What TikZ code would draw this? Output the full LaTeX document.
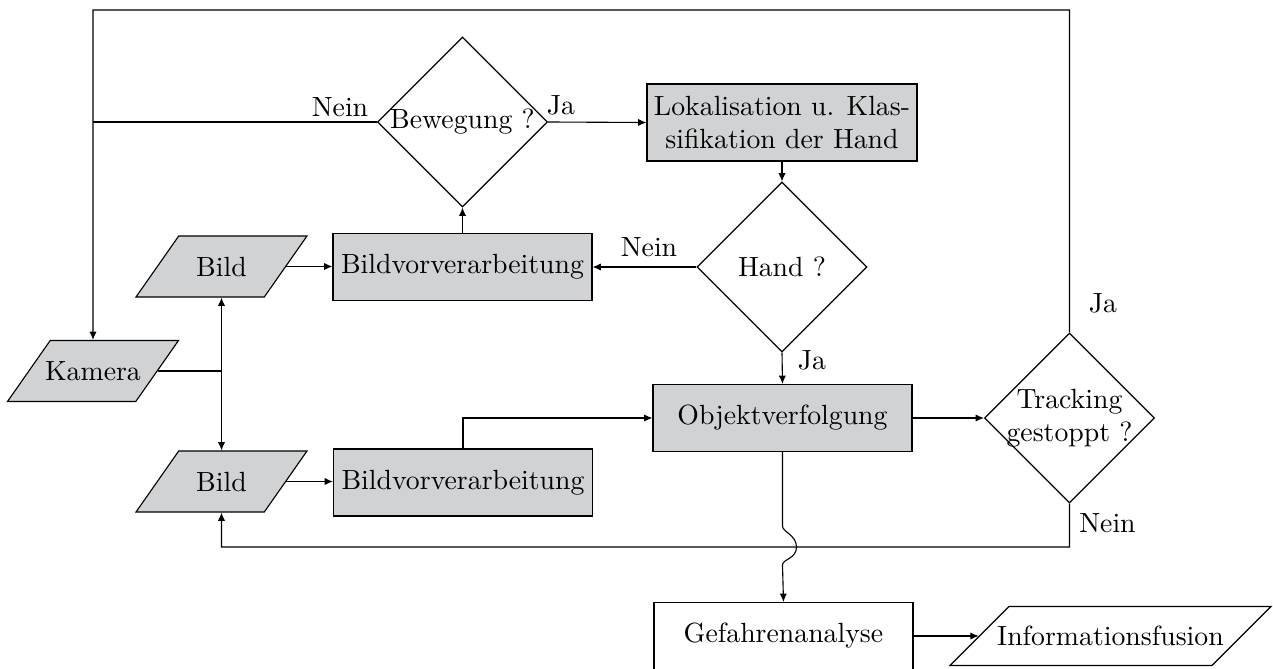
\documentclass[tikz,border=0pt]{standalone}
\usetikzlibrary{shapes.geometric,arrows.meta,calc}
\definecolor{boxgrey}{RGB}{209,210,212}
\begin{document}
\begin{tikzpicture}[
  x=0.36pt, y=-0.36pt,
  line width=0.4pt,
  font=\fontsize{10}{12}\selectfont,
  arrow/.style={-{Latex[length=3pt,width=2.6pt]}},
  procbox/.style={rectangle, draw, fill=boxgrey, minimum width=93.24pt, minimum height=24.12pt, inner sep=0pt, align=center},
  plainbox/.style={rectangle, draw, fill=white, minimum width=93.24pt, minimum height=24.12pt, inner sep=0pt},
  decision/.style={diamond, draw, aspect=1, minimum size=61.2pt, inner sep=0pt},
  iobox/.style={trapezium, draw, fill=boxgrey, trapezium left angle=55, trapezium right angle=125,
                trapezium stretches body, text height=7pt, text depth=0pt,
                inner xsep=-4pt, inner ysep=7.48pt, minimum width=61.56pt},
  outbox/.style={trapezium, draw, fill=white, trapezium left angle=45, trapezium right angle=135,
                trapezium stretches body, text height=7pt, text depth=0pt,
                inner xsep=-6pt, inner ysep=7.12pt, minimum width=115.56pt},
  tag/.style={inner sep=0pt}
]
\useasboundingbox (0,0) rectangle (1273,669);

% nodes
\node[decision, label={center:Bewegung ?}] (bew) at (462.5,122) {};
\node[procbox, minimum width=97.2pt, minimum height=27.72pt] (lok) at (782,122.5) {Lokalisation u. Klas-\\sifikation der Hand};
\node[procbox] (bv1) at (462.5,267) {Bildvorverarbeitung};
\node[decision, label={center:Hand ?}] (hand) at (782,267) {};
\node[iobox] (bild1) at (221.5,266.5) {Bild};
\node[iobox] (kam) at (93,371) {Kamera};
\node[iobox] (bild2) at (221.5,481.5) {Bild};
\node[procbox] (bv2) at (463,482.5) {Bildvorverarbeitung};
\node[procbox] (obj) at (782.5,418) {Objektverfolgung};
\node[decision, label={[align=center]center:Tracking\\gestoppt ?}] (track) at (1069.5,418) {};
\node[plainbox] (gef) at (783.5,636) {Gefahrenanalyse};
\node[outbox] (info) at (1110.5,636) {Informationsfusion};

% helper points
\coordinate (tl) at (93,10);
\coordinate (fb) at (221.5,547);
\coordinate (kj) at (bild1.south |- kam.east);
\coordinate (hop) at (obj.south |- fb);

% connectors
\draw[arrow] (track.north) |- (tl) -- (kam.north);
\draw (bew.west) -- (bew.west -| tl);
\draw[arrow] (bew.east) -- (lok.west);
\draw[arrow] (bv1.north) -- (bew.south);
\draw[arrow] (lok.south) -- (hand.north);
\draw[arrow] (hand.west) -- (bv1.east);
\draw[arrow] (hand.south) -- (obj.north);
\draw[arrow] (bild1.east) -- (bild1.east -| bv1.west);
\draw (kam.east) -- (kj);
\draw[arrow] (kj) -- (bild1.south);
\draw[arrow] (kj) -- (bild2.north);
\draw[arrow] (bild2.east) -- (bild2.east -| bv2.west);
\draw[arrow] (bv2.north) |- (obj.west);
\draw[arrow] (obj.east) -- (track.west);
\draw[arrow] (track.south) |- (fb) -- (bild2.south);
\draw[arrow] (obj.south) -- ($(hop)+(0,-21)$)
  .. controls +(0,6) and +(0,-12) .. ($(hop)+(14,0)$)
  .. controls +(0,12) and +(0,-6) .. ($(hop)+(0,18)$) -- (gef.north);
\draw[arrow] (gef.east) -- (gef.east -| info.west);

% branch labels
\node[tag] (n1) at (340,107) {Nein};
\node[tag] (j1) at (561,105) {Ja};
\node[tag] (n2) at (649,247) {Nein};
\node[tag] (j2) at (812,360) {Ja};
\node[tag] (j3) at (1103,303) {Ja};
\node[tag] (n3) at (1107.5,523) {Nein};
\end{tikzpicture}
\end{document}
